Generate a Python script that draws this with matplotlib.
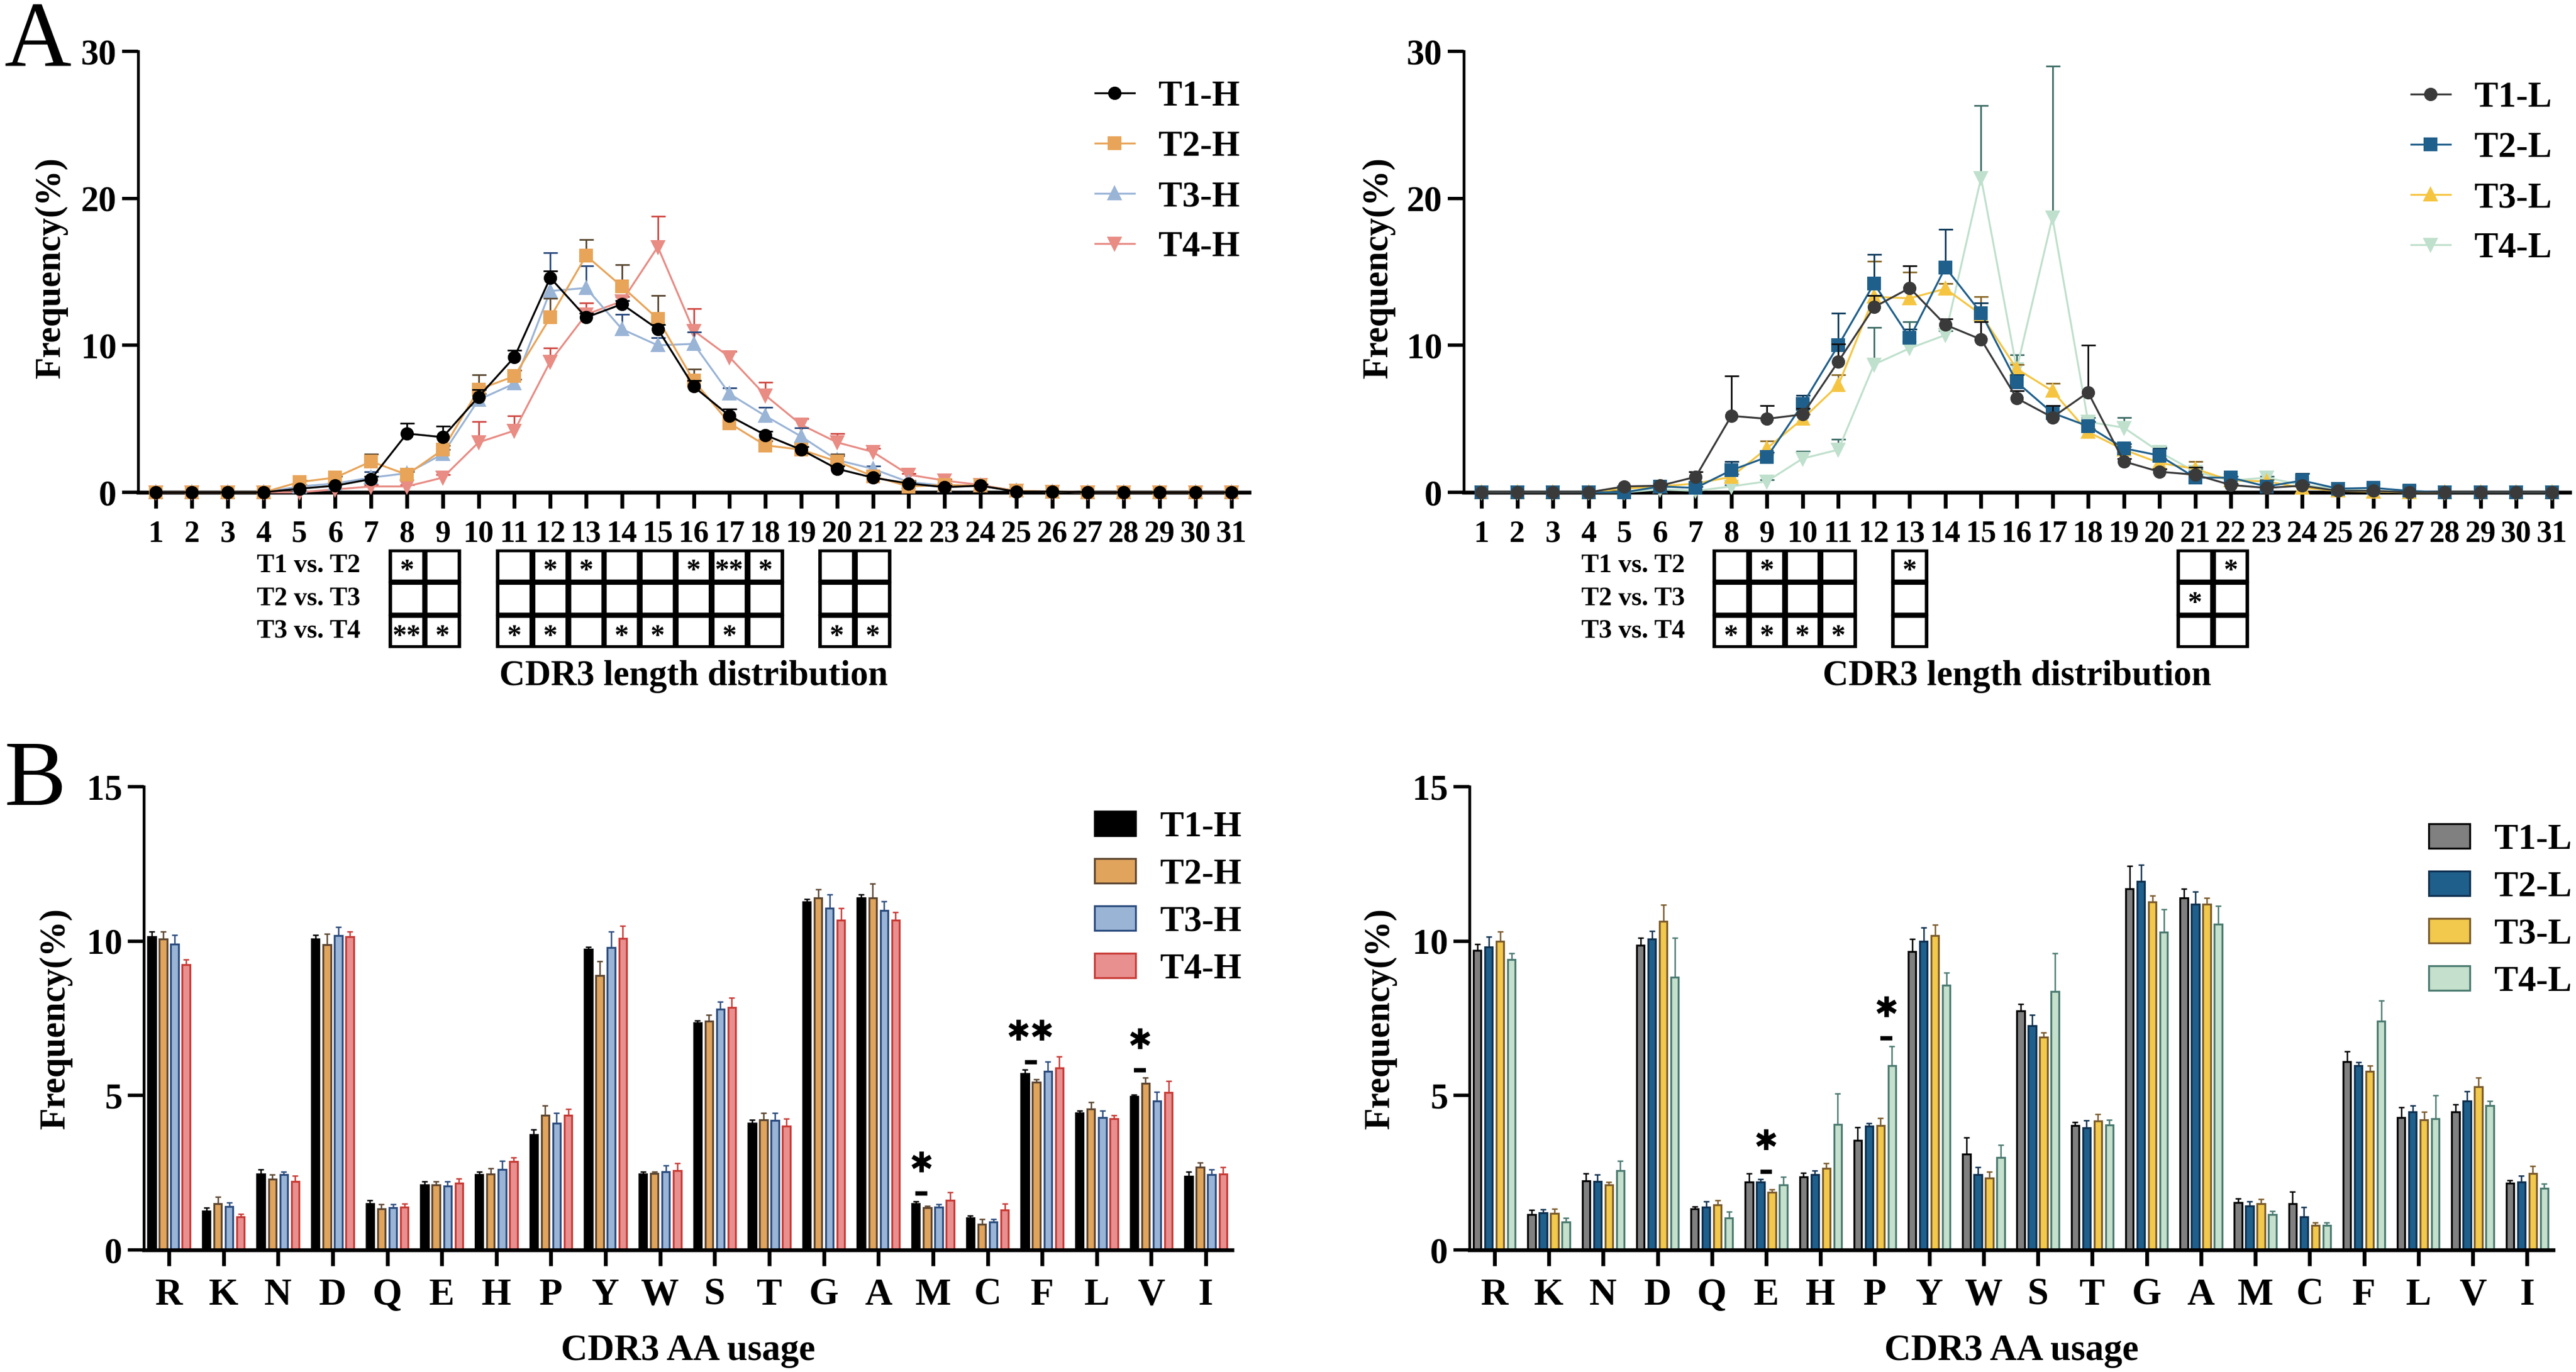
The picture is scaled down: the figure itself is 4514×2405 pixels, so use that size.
import numpy as np
import matplotlib
matplotlib.use("Agg")
import matplotlib.pyplot as plt
from matplotlib.patches import Rectangle

plt.rcParams['font.family'] = ['Liberation Serif', 'DejaVu Sans']
plt.rcParams['font.weight'] = 'bold'
plt.rcParams['axes.labelweight'] = 'bold'

# ---------------- data: CDR3 length distribution ----------------
lengths = np.arange(1, 32)

T1H = [0, 0, 0, 0, 0.25, 0.45, 0.9, 4.0, 3.75, 6.5, 9.2, 14.6, 11.9, 12.8, 11.1, 7.2, 5.2, 3.9, 2.9, 1.6, 1.0, 0.6, 0.35, 0.45, 0.05, 0.05, 0, 0, 0, 0, 0]
T1H_sd = [0, 0, 0, 0, 0, 0.1, 0.2, 0.7, 0.75, 0.5, 0.45, 0.45, 0.3, 0.25, 0.3, 0.4, 0.45, 0.25, 0.2, 0.2, 0.15, 0.1, 0.1, 0.1, 0, 0, 0, 0, 0, 0, 0]
T2H = [0, 0, 0, 0, 0.7, 1.0, 2.1, 1.2, 2.9, 7.0, 7.9, 11.9, 16.1, 14.0, 11.8, 7.6, 4.7, 3.2, 2.9, 2.1, 1.1, 0.4, 0.5, 0.45, 0.1, 0.05, 0, 0, 0, 0, 0]
T2H_sd = [0, 0, 0, 0, 0.1, 0.1, 0.5, 0.2, 0.3, 1.0, 0.4, 1.3, 1.1, 1.5, 1.6, 0.8, 0.3, 0.3, 0.2, 0.5, 0.2, 0.1, 0.1, 0.1, 0, 0, 0, 0, 0, 0, 0]
T3H = [0, 0, 0, 0, 0.4, 0.6, 1.0, 1.3, 2.6, 6.3, 7.4, 13.7, 13.9, 11.1, 10.0, 10.1, 6.7, 5.2, 3.8, 2.2, 1.6, 0.7, 0.45, 0.45, 0.1, 0.05, 0, 0, 0, 0, 0]
T3H_sd = [0, 0, 0, 0, 0.1, 0.1, 0.4, 0.2, 0.3, 0.4, 0.3, 2.6, 1.5, 1.0, 0.5, 0.8, 0.4, 0.6, 0.6, 0.3, 0.2, 0.1, 0.1, 0.1, 0, 0, 0, 0, 0, 0, 0]
T4H = [0, 0, 0, 0, 0, 0.2, 0.4, 0.4, 1.0, 3.4, 4.2, 8.9, 12.1, 13.0, 16.7, 11.0, 9.2, 6.6, 4.6, 3.4, 2.75, 1.2, 0.8, 0.5, 0.1, 0.05, 0, 0, 0, 0, 0]
T4H_sd = [0, 0, 0, 0, 0, 0, 0.1, 0.1, 0.2, 1.4, 1.0, 0.9, 0.8, 0.3, 2.1, 1.5, 0.4, 0.9, 0.4, 0.6, 0.25, 0.1, 0.1, 0.1, 0, 0, 0, 0, 0, 0, 0]

T1L = [0, 0, 0, 0, 0.4, 0.45, 1.05, 5.2, 5.0, 5.3, 8.9, 12.6, 13.9, 11.4, 10.4, 6.4, 5.1, 6.8, 2.1, 1.4, 1.2, 0.5, 0.3, 0.45, 0.1, 0.1, 0, 0, 0, 0, 0]
T1L_sd = [0, 0, 0, 0, 0, 0.1, 0.35, 2.7, 0.9, 0.4, 1.2, 0.8, 1.5, 0.4, 1.2, 0.5, 0.8, 3.2, 0.2, 0.2, 0.5, 0.1, 0.1, 0.1, 0, 0, 0, 0, 0, 0, 0]
T2L = [0, 0, 0, 0, 0, 0.4, 0.3, 1.5, 2.4, 6.0, 10.0, 14.2, 10.5, 15.3, 12.2, 7.5, 5.4, 4.5, 3.0, 2.5, 1.0, 1.0, 0.4, 0.8, 0.25, 0.3, 0.1, 0, 0, 0, 0]
T2L_sd = [0, 0, 0, 0, 0, 0.1, 0.1, 0.6, 0.3, 0.6, 2.2, 2.0, 0.6, 2.6, 0.7, 0.5, 0.5, 0.3, 0.3, 0.5, 0.2, 0.1, 0.1, 0.5, 0, 0, 0, 0, 0, 0, 0]
T3L = [0, 0, 0, 0, 0.25, 0.4, 0.6, 1.05, 3.0, 5.0, 7.3, 13.3, 13.2, 13.85, 12.1, 8.4, 6.9, 4.1, 2.9, 2.0, 1.6, 0.8, 0.75, 0.3, 0.1, 0.05, 0, 0, 0, 0, 0]
T3L_sd = [0, 0, 0, 0, 0, 0.1, 0.1, 0.2, 0.5, 0.3, 0.7, 2.4, 1.8, 0.35, 1.2, 0.3, 0.5, 0.2, 0.2, 0.3, 0.5, 0.1, 0.1, 0.1, 0, 0, 0, 0, 0, 0, 0]
T4L = [0, 0, 0, 0, 0, 0.2, 0.1, 0.4, 0.75, 2.3, 2.9, 8.7, 9.8, 10.7, 21.4, 8.4, 18.7, 4.8, 4.4, 2.75, 1.4, 0.8, 1.0, 0.5, 0.25, 0.1, 0, 0, 0, 0, 0]
T4L_sd = [0, 0, 0, 0, 0, 0, 0, 0.1, 0.1, 0.5, 0.7, 2.5, 1.8, 0.3, 4.9, 0.95, 10.3, 0.3, 0.7, 0.3, 0.2, 0.1, 0.1, 0.1, 0, 0, 0, 0, 0, 0, 0]

# significance tables under panel A
cols_H = [8, 9, 11, 12, 13, 14, 15, 16, 17, 18, 20, 21]
tab_H = {
    'T1 vs. T2': ['*', '', '', '*', '*', '', '', '*', '**', '*', '', ''],
    'T2 vs. T3': ['', '', '', '', '', '', '', '', '', '', '', ''],
    'T3 vs. T4': ['**', '*', '*', '*', '', '*', '*', '', '*', '', '*', '*'],
}
cols_L = [8, 9, 10, 11, 13, 21, 22]
tab_L = {
    'T1 vs. T2': ['', '*', '', '', '*', '', '*'],
    'T2 vs. T3': ['', '', '', '', '', '*', ''],
    'T3 vs. T4': ['*', '*', '*', '*', '', '', ''],
}

# ---------------- data: CDR3 AA usage ----------------
aa = ['R', 'K', 'N', 'D', 'Q', 'E', 'H', 'P', 'Y', 'W', 'S', 'T', 'G', 'A', 'M', 'C', 'F', 'L', 'V', 'I']

T1H_aa = [10.14, 1.26, 2.46, 10.07, 1.5, 2.1, 2.43, 3.74, 9.74, 2.46, 7.36, 4.1, 11.26, 11.4, 1.5, 1.03, 5.71, 4.43, 4.96, 2.39]
T1H_aa_sd = [0.16, 0.1, 0.14, 0.13, 0.1, 0.11, 0.11, 0.15, 0.07, 0.08, 0.07, 0.11, 0.1, 0.1, 0.07, 0.07, 0.12, 0.07, 0.07, 0.15]
T2H_aa = [10.07, 1.5, 2.29, 9.89, 1.33, 2.1, 2.46, 4.36, 8.89, 2.47, 7.4, 4.21, 11.39, 11.39, 1.36, 0.83, 5.43, 4.57, 5.39, 2.67]
T2H_aa_sd = [0.23, 0.21, 0.14, 0.35, 0.14, 0.11, 0.18, 0.31, 0.45, 0.07, 0.21, 0.22, 0.28, 0.47, 0.07, 0.17, 0.1, 0.22, 0.18, 0.16]
T3H_aa = [9.9, 1.4, 2.43, 10.17, 1.36, 2.07, 2.6, 4.1, 9.79, 2.54, 7.79, 4.19, 11.07, 11.0, 1.39, 0.9, 5.79, 4.29, 4.83, 2.43]
T3H_aa_sd = [0.3, 0.13, 0.1, 0.29, 0.11, 0.14, 0.29, 0.33, 0.52, 0.2, 0.24, 0.24, 0.43, 0.29, 0.08, 0.1, 0.31, 0.21, 0.28, 0.18]
T4H_aa = [9.24, 1.07, 2.21, 10.14, 1.39, 2.17, 2.86, 4.36, 10.09, 2.57, 7.86, 4.0, 10.67, 10.67, 1.61, 1.29, 5.89, 4.24, 5.1, 2.46]
T4H_aa_sd = [0.16, 0.1, 0.19, 0.16, 0.11, 0.14, 0.14, 0.21, 0.41, 0.24, 0.31, 0.24, 0.4, 0.26, 0.25, 0.21, 0.37, 0.12, 0.36, 0.21]

T1L_aa = [9.69, 1.14, 2.24, 9.86, 1.33, 2.19, 2.37, 3.54, 9.67, 3.1, 7.74, 4.03, 11.69, 11.39, 1.53, 1.5, 6.1, 4.29, 4.47, 2.17]
T1L_aa_sd = [0.21, 0.15, 0.23, 0.24, 0.07, 0.28, 0.13, 0.43, 0.4, 0.54, 0.23, 0.11, 0.74, 0.3, 0.14, 0.39, 0.33, 0.32, 0.24, 0.09]
T2L_aa = [9.81, 1.2, 2.21, 10.07, 1.39, 2.2, 2.43, 4.0, 10.0, 2.43, 7.26, 3.96, 11.93, 11.2, 1.43, 1.07, 5.96, 4.47, 4.83, 2.2]
T2L_aa_sd = [0.33, 0.11, 0.22, 0.26, 0.18, 0.09, 0.14, 0.11, 0.43, 0.24, 0.35, 0.23, 0.53, 0.41, 0.14, 0.32, 0.11, 0.2, 0.31, 0.2]
T3L_aa = [10.0, 1.19, 2.1, 10.64, 1.46, 1.86, 2.64, 4.03, 10.17, 2.33, 6.89, 4.17, 11.26, 11.19, 1.5, 0.79, 5.79, 4.21, 5.29, 2.47]
T3L_aa_sd = [0.31, 0.14, 0.09, 0.53, 0.14, 0.1, 0.17, 0.23, 0.36, 0.2, 0.15, 0.22, 0.21, 0.21, 0.14, 0.1, 0.17, 0.26, 0.28, 0.24]
T4L_aa = [9.4, 0.9, 2.57, 8.83, 1.03, 2.1, 4.07, 5.97, 8.57, 3.0, 8.36, 4.04, 10.29, 10.54, 1.14, 0.79, 7.4, 4.24, 4.67, 2.0]
T4L_aa_sd = [0.2, 0.13, 0.32, 1.27, 0.21, 0.26, 1.0, 0.63, 0.4, 0.4, 1.25, 0.17, 0.74, 0.6, 0.12, 0.1, 0.67, 0.76, 0.16, 0.14]

# (amino acid, group a, group b, label)
sig_H = [('M', 0, 1, '✱'), ('F', 0, 1, '✱✱'), ('V', 0, 1, '✱')]
sig_L = [('E', 1, 2, '✱'), ('P', 2, 3, '✱')]

# ---------------- layout helpers ----------------
W, H = 4514, 2405
fig = plt.figure(figsize=(W / 300, H / 300), dpi=300)


def px_rect(l, t, r, b):
    return [l / W, 1 - b / H, (r - l) / W, (b - t) / H]


def style(ax, xsize):
    for s in ['top', 'right']:
        ax.spines[s].set_visible(False)
    ax.spines['left'].set_linewidth(1.2)
    ax.spines['bottom'].set_linewidth(1.6)
    ax.tick_params(axis='x', direction='out', length=6.7, width=1.6, pad=5, labelsize=xsize)
    ax.tick_params(axis='y', direction='out', length=6.7, width=1.4, pad=2.4, labelsize=15)


def upper_err(ax, x, y, sd, color, lw, cap, z):
    x, y, sd = np.asarray(x, float), np.asarray(y, float), np.asarray(sd, float)
    m = sd > 0
    ax.vlines(x[m], y[m], y[m] + sd[m], color=color, lw=lw, zorder=z, clip_on=False)
    ax.plot(x[m], (y + sd)[m], ls='none', marker='_', ms=cap, mew=lw, color=color, zorder=z, clip_on=False)


def line_panel(ax, series, legend_xy):
    for i, (name, y, sd, c, ec, mk) in reversed(list(enumerate(series))):
        z = 10 - 2 * i
        upper_err(ax, lengths, y, sd, ec, 0.7, 6, z)
        ax.plot(lengths, y, color=c, marker=mk, ms=4.6, lw=0.8, label=name, zorder=z + 1, clip_on=False)
    ax.set_xlim(0.5, 31.5)
    ax.set_ylim(0, 30)
    ax.set_xticks(lengths)
    ax.set_yticks([0, 10, 20, 30])
    style(ax, 13)
    h, l = ax.get_legend_handles_labels()
    ax.legend(h[::-1], l[::-1], loc='center left', bbox_to_anchor=(legend_xy[0] / W, 1 - legend_xy[1] / H),
              bbox_transform=fig.transFigure, frameon=False, fontsize=15, handlelength=1.1,
              handletextpad=0.67, labelspacing=0.48, borderpad=0, borderaxespad=0, numpoints=1)
    ax.set_ylabel('Frequency(%)', fontsize=15, fontweight='bold', va='center')
    ax.set_xlabel('CDR3 length distribution', fontsize=15, fontweight='bold', va='center')
    ax.xaxis.set_label_coords(0.5, -0.418)


def table_panel(ax, cols, tab):
    ax.set_xlim(0.5, 31.5)
    ax.set_ylim(3, 0)
    ax.axis('off')
    for r, (name, marks) in enumerate(tab.items()):
        ax.text(6.7, r + 0.5, name, ha='right', va='center', fontsize=11)
        for c, s in zip(cols, marks):
            ax.add_patch(Rectangle((c - 0.47, r + 0.03), 0.94, 0.94, fill=False, lw=1.5, ec='black'))
            if s:
                ax.text(c, r + 0.88, s, ha='center', va='baseline', fontsize=12)


offsets = [-0.315, -0.105, 0.105, 0.315]


def bar_panel(ax, series, sig, legend_xy):
    x = np.arange(len(aa))
    tops = []
    for i, (name, y, sd, fc, ec) in enumerate(series):
        ax.bar(x + offsets[i], y, width=0.14, color=fc, edgecolor=ec, linewidth=0.8, label=name, zorder=2)
        upper_err(ax, x + offsets[i], y, sd, ec, 0.6, 2.2, 3)
        tops.append(np.asarray(y) + np.asarray(sd))
    for a, g1, g2, s in sig:
        k = aa.index(a)
        xc = k + (offsets[g1] + offsets[g2]) / 2
        yd = max(tops[g1][k], tops[g2][k]) + 0.25
        ax.plot([xc - 0.11, xc + 0.11], [yd, yd], color='black', lw=1.8, solid_capstyle='butt', zorder=4)
        ax.text(xc, yd + 0.95, s, ha='center', va='center', fontsize=12, family='DejaVu Sans', zorder=4)
    ax.set_xlim(-0.46, len(aa) - 0.52)
    ax.set_ylim(0, 15)
    ax.set_xticks(x)
    ax.set_xticklabels(aa)
    ax.set_yticks([0, 5, 10, 15])
    style(ax, 16)
    ax.legend(loc='center left', bbox_to_anchor=(legend_xy[0] / W, 1 - legend_xy[1] / H),
              bbox_transform=fig.transFigure, frameon=False, fontsize=15, handlelength=1.15,
              handleheight=0.69, handletextpad=0.69, labelspacing=0.4, borderpad=0, borderaxespad=0)
    ax.set_ylabel('Frequency(%)', fontsize=15, fontweight='bold', va='center')
    ax.set_xlabel('CDR3 AA usage', fontsize=15.5, fontweight='bold', va='center')
    ax.xaxis.set_label_coords(0.5, -0.218)


# ---------------- panel A ----------------
ax1 = fig.add_axes(px_rect(242, 90, 2189, 863))
line_panel(ax1, [
    ('T1-H', T1H, T1H_sd, '#000000', '#000000', 'o'),
    ('T2-H', T2H, T2H_sd, '#E8A458', '#5C4A33', 's'),
    ('T3-H', T3H, T3H_sd, '#9AB4D6', '#2B4C7E', '^'),
    ('T4-H', T4H, T4H_sd, '#E88C84', '#D04A44', 'v'),
], (1919, 302))
ax1.yaxis.set_label_coords(-0.078, 0.51)

ax2 = fig.add_axes(px_rect(2565, 90, 4503, 863))
line_panel(ax2, [
    ('T1-L', T1L, T1L_sd, '#3A3A3A', '#111111', 'o'),
    ('T2-L', T2L, T2L_sd, '#1F5F8B', '#0E3A5A', 's'),
    ('T3-L', T3L, T3L_sd, '#F5C542', '#8A6A2A', '^'),
    ('T4-L', T4L, T4L_sd, '#BFE0CC', '#3F6E68', 'v'),
], (4225, 304))
ax2.yaxis.set_label_coords(-0.077, 0.51)

t1 = fig.add_axes(px_rect(242, 963, 2189, 1136))
table_panel(t1, cols_H, tab_H)
t2 = fig.add_axes(px_rect(2565, 963, 4503, 1136))
table_panel(t2, cols_L, tab_L)

# ---------------- panel B ----------------
ax3 = fig.add_axes(px_rect(252, 1379, 2159, 2191))
bar_panel(ax3, [
    ('T1-H', T1H_aa, T1H_aa_sd, '#000000', '#000000'),
    ('T2-H', T2H_aa, T2H_aa_sd, '#E0A45C', '#5C4530'),
    ('T3-H', T3H_aa, T3H_aa_sd, '#9AB4D6', '#2B4C7E'),
    ('T4-H', T4H_aa, T4H_aa_sd, '#E89090', '#C83A35'),
], sig_H, (1918, 1575))
ax3.yaxis.set_label_coords(-0.081, 0.5)

ax4 = fig.add_axes(px_rect(2575, 1379, 4474, 2191))
bar_panel(ax4, [
    ('T1-L', T1L_aa, T1L_aa_sd, '#808080', '#000000'),
    ('T2-L', T2L_aa, T2L_aa_sd, '#1F5F8B', '#0E3050'),
    ('T3-L', T3L_aa, T3L_aa_sd, '#F2C94C', '#7A5A2A'),
    ('T4-L', T4L_aa, T4L_aa_sd, '#C5E0CC', '#4A7A70'),
], sig_L, (4256, 1597))
ax4.yaxis.set_label_coords(-0.082, 0.5)

fig.text(7 / W, 1 - 115 / H, 'A', fontsize=39, fontweight='normal', ha='left', va='baseline')
fig.text(7 / W, 1 - 1411 / H, 'B', fontsize=39, fontweight='normal', ha='left', va='baseline')

fig.savefig('out.png', dpi=300)
